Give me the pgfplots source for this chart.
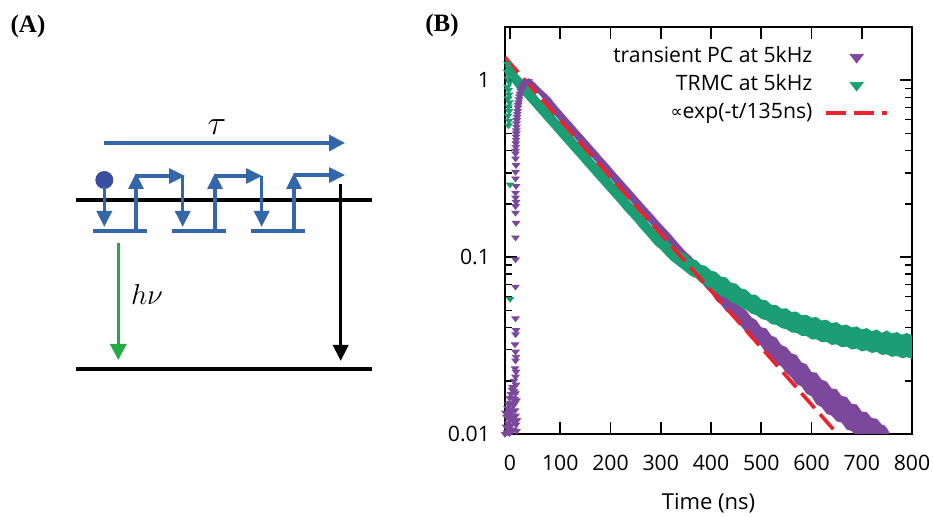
\documentclass[border=0pt]{standalone}
\usepackage{fontspec}
\setmainfont{Open Sans}
\newfontfamily\tnr{Liberation Serif}
\newfontfamily\dejavu{DejaVu Sans}
\usepackage{pgfplots}
\pgfplotsset{compat=1.18}
\usetikzlibrary{arrows.meta}

\definecolor{pcpurple}{RGB}{124,72,155}
\definecolor{trmcgreen}{RGB}{27,158,115}
\definecolor{fitred}{RGB}{238,34,44}
\definecolor{schblue}{RGB}{52,102,170}
\definecolor{dotblue}{RGB}{58,78,160}
\definecolor{arrgreen}{RGB}{34,170,70}

\pgfplotsset{
  marklegend/.style={legend image code/.code={\draw[##1, mark size=3.8pt] plot coordinates {(15.25pt,0pt)};}},
  linelegend/.style={legend image code/.code={\draw[##1] (0pt,0pt) -- (30.5pt,0pt);}},
}

\begin{document}
\begin{tikzpicture}
\path[use as bounding box] (0,0) rectangle (466.5pt,258.5pt);

% (A) schematic, drawn in pixel units of the whole picture
\begin{axis}[name=A, at={(0,0)}, anchor=south west, scale only axis,
  width=466.5pt, height=258.5pt, xmin=0, xmax=933, ymin=0, ymax=517,
  y dir=reverse, axis lines=none, clip=false]
\node[font=\tnr\bfseries\fontsize{12.5}{14}\selectfont] at (axis cs:28,26) {(A)};
\node[font=\tnr\bfseries\fontsize{12.5}{14}\selectfont] at (axis cs:442,25) {(B)};
% levels
\draw[black, line width=2pt] (axis cs:76,200) -- (axis cs:372,200);
\draw[black, line width=2pt] (axis cs:76,369) -- (axis cs:372,369);
% tau arrow
\draw[schblue, line width=1.7pt, -{Triangle[length=8pt,width=8pt]}] (axis cs:104,143) -- (axis cs:345,143);
\node at (axis cs:217,127) {\fontsize{16}{18}\selectfont$\tau$};
% traps
\draw[schblue, line width=1.6pt] (axis cs:92.7,231) -- (axis cs:147.3,231);
\draw[schblue, line width=1.6pt] (axis cs:171.7,231) -- (axis cs:226,231);
\draw[schblue, line width=1.6pt] (axis cs:250.7,231) -- (axis cs:305,231);
% hopping path
\fill[dotblue] (axis cs:104.3,180) circle (4.5pt);
\draw[schblue, line width=1.6pt, -{Triangle[length=8pt,width=7.5pt]}] (axis cs:104.3,186) -- (axis cs:104.3,227);
\draw[schblue, line width=1.6pt, -{Triangle[length=8pt,width=7.5pt]}] (axis cs:136,231) -- (axis cs:136,173);
\draw[schblue, line width=1.6pt, -{Triangle[length=8pt,width=7.5pt]}] (axis cs:136,176) -- (axis cs:185,176);
\draw[schblue, line width=1.6pt, -{Triangle[length=8pt,width=7.5pt]}] (axis cs:182.7,176) -- (axis cs:182.7,227);
\draw[schblue, line width=1.6pt, -{Triangle[length=8pt,width=7.5pt]}] (axis cs:215,231) -- (axis cs:215,173);
\draw[schblue, line width=1.6pt, -{Triangle[length=8pt,width=7.5pt]}] (axis cs:215,176) -- (axis cs:262,176);
\draw[schblue, line width=1.6pt, -{Triangle[length=8pt,width=7.5pt]}] (axis cs:261.7,176) -- (axis cs:261.7,227);
\draw[schblue, line width=1.6pt, -{Triangle[length=8pt,width=7.5pt]}] (axis cs:294,231) -- (axis cs:294,173);
\draw[schblue, line width=1.6pt, -{Triangle[length=8pt,width=7.5pt]}] (axis cs:294,175) -- (axis cs:345,175);
% recombination arrows
\draw[black, line width=1.7pt, -{Triangle[length=8pt,width=7.5pt]}] (axis cs:340.7,184) -- (axis cs:340.7,361);
\draw[arrgreen, line width=1.7pt, -{Triangle[length=8pt,width=8pt]}] (axis cs:118.3,243) -- (axis cs:118.3,360);
\node at (axis cs:147,295) {\fontsize{15.5}{18}\selectfont$h\nu$};
\end{axis}

% (B) decay curves
\begin{axis}[name=B, at={(252.5pt,41.5pt)}, anchor=south west, scale only axis,
  width=203.5pt, height=203.5pt,
  xmin=-10, xmax=800, ymode=log, ymin=0.01, ymax=2,
  xtick={0,100,...,800},
  ytick={0.01,0.1,1}, yticklabels={0.01,0.1,1},
  tick align=inside, major tick length=6pt, minor tick length=3.5pt,
  every tick/.style={black, line width=0.8pt},
  axis line style={line width=0.9pt},
  /pgf/number format/assume math mode=true,
  ticklabel style={font=\fontsize{10.6}{12}\selectfont},
  xticklabel style={yshift=-7pt},
  yticklabel style={xshift=-4pt},
  xlabel={Time (ns)},
  xlabel style={at={(axis description cs:0.5,0)}, anchor=north, yshift=-26pt,
    font=\fontsize{11}{13}\selectfont},
  legend plot pos=right, legend cell align=right,
  legend style={draw=none, fill=none, at={(rel axis cs:1,1)}, anchor=north east,
    xshift=-11.3pt, yshift=-9.3pt, inner sep=0pt, row sep=2.8pt,
    font=\fontsize{10.6}{12}\selectfont,
    nodes={inner sep=0.5pt, text height=8pt, text depth=2.2pt},
    /tikz/every odd column/.append style={column sep=5.5pt}},
]
% transient PC: band of dense points
\addplot[pcpurple, fill=pcpurple, draw=none, forget plot] coordinates {
(35,1.031)(40,1.016)(50,0.963)(60,0.900)(70,0.847)(80,0.796)(90,0.732)(100,0.678)
(110,0.629)(120,0.584)(130,0.542)(140,0.504)(150,0.468)(160,0.435)(170,0.404)(180,0.374)
(190,0.348)(200,0.323)(210,0.299)(220,0.278)(230,0.258)(240,0.240)(250,0.223)(260,0.207)
(270,0.192)(280,0.179)(290,0.166)(300,0.154)(310,0.144)(320,0.134)(330,0.124)(340,0.115)
(350,0.107)(360,0.101)(370,0.0942)(380,0.0877)(390,0.0817)(400,0.0760)(410,0.0730)(420,0.0665)
(430,0.0635)(440,0.0584)(450,0.0560)(460,0.0520)(470,0.0500)(480,0.0458)(490,0.0440)(500,0.0401)
(510,0.0395)(520,0.0360)(530,0.0350)(540,0.0318)(550,0.0310)(560,0.0286)(570,0.0280)(580,0.0254)
(590,0.0248)(600,0.0224)(610,0.0222)(620,0.0203)(630,0.0198)(640,0.0181)(650,0.0179)(660,0.0164)
(670,0.0162)(680,0.0148)(690,0.0147)(700,0.0134)(710,0.0133)(720,0.0123)(730,0.0122)(740,0.0113)
(745,0.0112)(750,0.0108)(755,0.0102)
(755,0.0085)(750,0.0075)(740,0.0078)(730,0.0082)(720,0.0086)(710,0.0089)(700,0.0093)(690,0.0096)
(680,0.0104)(670,0.0106)(660,0.0116)(650,0.0118)(640,0.0127)(630,0.0130)(620,0.0142)(610,0.0147)
(600,0.0163)(590,0.0169)(580,0.0186)(570,0.0191)(560,0.0209)(550,0.0221)(540,0.0241)(530,0.0250)
(520,0.0274)(510,0.0283)(500,0.0315)(490,0.0328)(480,0.0358)(470,0.0374)(460,0.0407)(450,0.0434)
(440,0.0472)(430,0.0494)(420,0.0538)(410,0.0568)(400,0.0630)(390,0.0668)(380,0.0725)(370,0.0772)
(360,0.0836)(350,0.0905)(340,0.0976)(330,0.105)(320,0.113)(310,0.122)(300,0.133)(290,0.143)
(280,0.154)(270,0.165)(260,0.178)(250,0.192)(240,0.207)(230,0.223)(220,0.240)(210,0.258)
(200,0.279)(190,0.300)(180,0.323)(170,0.349)(160,0.375)(150,0.404)(140,0.435)(130,0.468)
(120,0.505)(110,0.544)(100,0.585)(90,0.632)(80,0.688)(70,0.755)(60,0.821)(50,0.879)
(40,0.926)(35,0.941)
};
\addplot[pcpurple, only marks, mark=triangle*, mark size=2.1pt,
  mark options={rotate=180, yscale=0.75}, marklegend]
coordinates {
(-12,0.0105)(-11,0.0120)(-10,0.0100)(-9,0.0132)(-8,0.0110)(-7,0.0125)(-6,0.0102)(-5,0.0140)
(-4,0.0115)(-3,0.0106)(-2,0.0128)(-1,0.0101)(0,0.0120)(1,0.0150)(2,0.0112)(3,0.0133)
(4,0.0104)(5,0.0160)(6,0.0124)(7,0.0145)(8,0.0175)(9,0.0117)(10,0.0150)(11,0.0170)
(12,0.0190)(10,0.0136)(9,0.0158)(11,0.0127)(7,0.0106)(6,0.0148)(13,0.0104)(12,0.0113)
(4,0.0178)(2,0.0168)(0,0.0138)(-3,0.0148)(-6,0.0130)(8,0.0200)(13,0.0155)(14,0.0120)
(5,0.0185)(-1,0.0160)
(11,0.0211)(12,0.0225)(10,0.0235)(11,0.0260)(12,0.0273)(11,0.0292)(10,0.0321)(11,0.0366)
(12,0.0387)(11,0.0450)(11,0.0680)(11,0.0970)(11,0.129)(12,0.156)(11,0.178)(11,0.194)
(12,0.205)(11,0.217)(11,0.231)(12,0.252)(11,0.278)(11,0.303)(12,0.331)(11,0.361)(11,0.385)
(11,0.40)(11.5,0.42)(11.5,0.44)(12,0.46)(12,0.48)(12.5,0.50)(12.5,0.52)(13,0.545)
(13,0.57)(13.5,0.595)(14,0.62)(14.5,0.645)(15,0.67)(15.5,0.70)(16,0.725)(17,0.75)
(18,0.78)(19,0.81)(20,0.84)(21.5,0.87)(23,0.895)(25,0.92)(27,0.94)(29,0.955)
(31,0.97)(33,0.98)(35,0.985)(37,0.985)
};
\addlegendentry{transient PC at 5kHz}
% TRMC: band of dense points
\addplot[trmcgreen, fill=trmcgreen, draw=none, forget plot] coordinates {
(2,1.20)(10,1.125)(20,1.045)(30,0.971)(40,0.901)(50,0.836)(60,0.777)(70,0.722)
(80,0.670)(90,0.623)(100,0.577)(110,0.537)(120,0.498)(130,0.463)(140,0.430)(150,0.399)
(160,0.370)(170,0.344)(180,0.320)(190,0.296)(200,0.276)(210,0.256)(220,0.238)(230,0.220)
(240,0.205)(250,0.191)(260,0.176)(270,0.164)(280,0.152)(290,0.141)(300,0.1347)(310,0.1262)
(320,0.1181)(330,0.1121)(340,0.1068)(350,0.1040)(360,0.0975)(370,0.0965)(380,0.0905)(390,0.0890)
(400,0.0838)(410,0.0825)(420,0.0775)(430,0.0768)(440,0.0716)(450,0.0708)(460,0.0665)(470,0.0655)
(480,0.0615)(490,0.0612)(500,0.0576)(510,0.0570)(520,0.0538)(530,0.0536)(540,0.0511)(550,0.0514)
(560,0.0490)(570,0.0492)(580,0.0470)(590,0.0472)(600,0.0455)(610,0.0458)(620,0.0438)(630,0.0443)
(640,0.0424)(650,0.0429)(660,0.0411)(670,0.0416)(680,0.0400)(690,0.0406)(700,0.0390)(710,0.0397)
(720,0.0381)(730,0.0390)(740,0.0373)(750,0.0385)(760,0.0370)(770,0.0377)(780,0.0364)(790,0.0372)
(800,0.0360)(805,0.0365)
(805,0.0270)(800,0.0266)(790,0.0272)(780,0.0268)(770,0.0277)(760,0.0273)(750,0.0282)(740,0.0280)
(730,0.0291)(720,0.0287)(710,0.0297)(700,0.0293)(690,0.0304)(680,0.0300)(670,0.0312)(660,0.0309)
(650,0.0321)(640,0.0319)(630,0.0332)(620,0.0330)(610,0.0343)(600,0.0343)(590,0.0358)(580,0.0359)
(570,0.0373)(560,0.0375)(550,0.0391)(540,0.0397)(530,0.0414)(520,0.0418)(510,0.0440)(500,0.0447)
(490,0.0470)(480,0.0479)(470,0.0505)(460,0.0516)(450,0.0544)(440,0.0556)(430,0.0589)(420,0.0602)
(410,0.0634)(400,0.0651)(390,0.0692)(380,0.0714)(370,0.0761)(360,0.0782)(350,0.0824)(340,0.0868)
(330,0.0912)(320,0.0960)(310,0.1026)(300,0.1103)(290,0.116)(280,0.125)(270,0.135)(260,0.145)
(250,0.157)(240,0.169)(230,0.181)(220,0.196)(210,0.211)(200,0.227)(190,0.244)(180,0.263)
(170,0.283)(160,0.305)(150,0.328)(140,0.354)(130,0.381)(120,0.410)(110,0.442)(100,0.475)
(90,0.513)(80,0.552)(70,0.594)(60,0.640)(50,0.689)(40,0.742)(30,0.799)(20,0.860)
(10,0.926)(2,1.00)
};
\addplot[trmcgreen, only marks, mark=triangle*, mark size=2.1pt,
  mark options={rotate=180, yscale=0.75}, marklegend]
coordinates {
(-5,1.24)(-3,1.18)(-6,1.12)(-2,1.07)(-4,1.02)(-1,0.97)(-5,0.92)(-3,0.88)
(-2,0.83)(-4,0.79)(-1,0.75)(-3,0.71)(-2,0.67)(-4,0.63)(-2,0.59)(-3,0.555)
(0,1.15)(1,1.10)(0,0.257)(0,0.058)
};
\addlegendentry{TRMC at 5kHz}
% single-exponential guide
\addplot[fitred, line width=1.8pt, dash pattern=on 10pt off 4pt, linelegend]
coordinates {(-10,1.346)(680,0.00811)};
\addlegendentry{{\dejavu\fontsize{8.5}{9}\selectfont\raisebox{0.8pt}{∝}}exp(-t/135ns)}
\end{axis}
\end{tikzpicture}
\end{document}
